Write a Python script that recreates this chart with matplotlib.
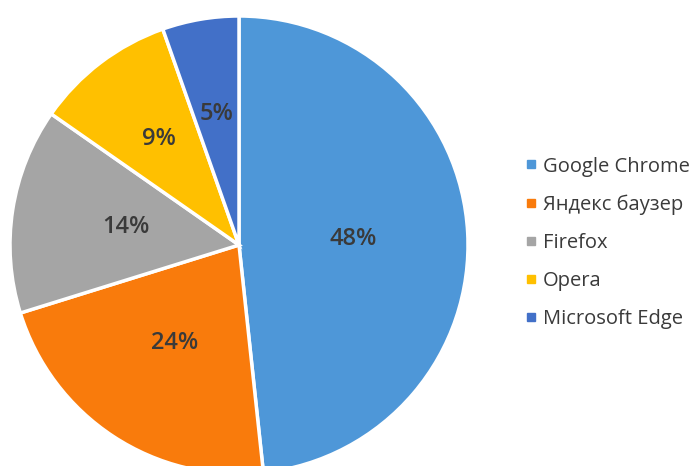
import matplotlib
matplotlib.use("Agg")
import numpy as np
import matplotlib.pyplot as plt
from matplotlib.lines import Line2D

browsers = ["Google Chrome", "Яндекс баузер", "Firefox", "Opera", "Microsoft Edge"]
shares = [48.3, 21.9, 14.5, 9.9, 5.4]
pct_labels = ["48%", "24%", "14%", "9%", "5%"]
colors = ["#4E97D8", "#F97B0C", "#A5A5A5", "#FFC000", "#4270C8"]
label_dist = [0.50, 0.51, 0.50, 0.58, 0.58]

plt.rcParams['font.family'] = ['Open Sans', 'DejaVu Sans']

fig = plt.figure(figsize=(6.95, 4.66), dpi=100)
W, H = 695, 466
cx, cy, r = 239, 245, 229
ax = fig.add_axes([(cx - r) / W, (H - cy - r) / H, 2 * r / W, 2 * r / H])
wedges, _ = ax.pie(
    shares, colors=colors, startangle=90, counterclock=False,
    wedgeprops=dict(edgecolor="white", linewidth=2.5))
for w, lab, d in zip(wedges, pct_labels, label_dist):
    ang = np.deg2rad((w.theta1 + w.theta2) / 2)
    ax.text(d * np.cos(ang), d * np.sin(ang), lab, ha="center", va="center",
            fontsize=17, color="#3a3a3a", fontweight="semibold")
ax.set_xlim(-1, 1)
ax.set_ylim(-1, 1)
ax.set_aspect("equal")
ax.axis("off")

handles = [Line2D([0], [0], marker="s", linestyle="none", markersize=5.5,
                  markerfacecolor=c, markeredgecolor=c) for c in colors]
fig.legend(handles, browsers, loc="center left", bbox_to_anchor=(516 / W, 1 - 243 / H),
           frameon=False, fontsize=14.5, labelcolor="#3a3a3a", handlelength=0.5,
           handletextpad=0.35, labelspacing=0.9, borderpad=0)

fig.savefig("out.png", dpi=100)
